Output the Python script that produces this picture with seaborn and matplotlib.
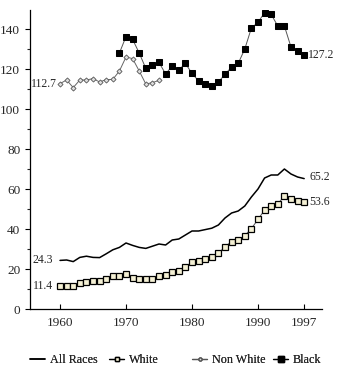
import numpy as np
import pandas as pd
import matplotlib
matplotlib.use("Agg")
import matplotlib.pyplot as plt
import seaborn as sns
from matplotlib.ticker import MultipleLocator
from matplotlib.lines import Line2D

years_all = list(range(1960, 1998))
all_races = [24.3, 24.5, 23.7, 25.8, 26.4, 25.8, 25.7, 27.6, 29.6, 30.8,
             33.0, 31.8, 30.8, 30.3, 31.4, 32.5, 32.0, 34.5, 35.0, 37.0,
             39.0, 39.0, 39.7, 40.4, 42.0, 45.5, 48.0, 49.0, 51.5, 56.0,
             60.0, 65.5, 67.0, 67.0, 70.0, 67.5, 66.0, 65.2]
white = [11.4, 11.7, 11.6, 12.8, 13.3, 13.8, 13.8, 15.0, 16.5, 16.3,
         17.3, 15.7, 15.0, 15.0, 15.2, 16.5, 16.8, 18.5, 19.0, 20.8,
         23.7, 24.2, 25.2, 26.2, 27.8, 31.2, 33.7, 34.5, 36.7, 40.2,
         44.8, 49.5, 51.5, 52.5, 56.5, 55.2, 54.0, 53.6]
years_nonwhite = list(range(1960, 1976))
non_white = [112.7, 114.5, 110.7, 114.5, 114.5, 115.2, 113.5, 114.7, 114.8, 119.0,
             126.0, 125.2, 119.0, 112.5, 113.2, 114.3]
years_black = list(range(1969, 1998))
black = [128.0, 136.2, 134.8, 128.0, 120.3, 122.0, 123.3, 117.5, 121.5, 119.5,
         122.8, 117.8, 114.0, 112.3, 111.7, 113.5, 117.3, 121.0, 122.8, 130.0,
         140.5, 143.3, 148.2, 147.3, 141.5, 141.5, 131.0, 129.0, 127.2]
x_ticks = [1960, 1970, 1980, 1990, 1997]
legend_labels = ["All Races", "White", "Non White", "Black"]

sns.set_style("ticks")
plt.rcParams['font.family'] = ['Liberation Serif', 'DejaVu Serif']

fig = plt.figure(figsize=(3.44, 3.74), dpi=100)
ax = fig.add_axes([30/344, 65/374, 292/344, 299/374])

df_all = pd.DataFrame({"year": years_all, "v": all_races})
df_white = pd.DataFrame({"year": years_all, "v": white})
df_nw = pd.DataFrame({"year": years_nonwhite, "v": non_white})
df_b = pd.DataFrame({"year": years_black, "v": black})

sns.lineplot(data=df_all, x="year", y="v", ax=ax, color="black", linewidth=1.1)
sns.lineplot(data=df_white, x="year", y="v", ax=ax, color="#555555", linewidth=0.7,
             marker="s", markersize=4.2, markerfacecolor="#f4f0d4",
             markeredgecolor="black", markeredgewidth=0.9)
sns.lineplot(data=df_nw, x="year", y="v", ax=ax, color="#666666", linewidth=0.7,
             marker="D", markersize=2.6, markerfacecolor="#dddddd",
             markeredgecolor="#555555", markeredgewidth=0.6)
sns.lineplot(data=df_b, x="year", y="v", ax=ax, color="#555555", linewidth=0.7,
             marker="s", markersize=5, markerfacecolor="black",
             markeredgecolor="black")

ax.set_xlim(1955.45, 1999.7)
ax.set_ylim(0, 149.5)
ax.set_xticks(x_ticks)
ax.set_xticklabels([str(t) for t in x_ticks])
ax.yaxis.set_major_locator(MultipleLocator(20))
ax.yaxis.set_minor_locator(MultipleLocator(10))
ax.tick_params(axis='both', which='major', labelsize=9.5, length=3.5, width=0.8, color='black')
ax.tick_params(axis='x', which='major', direction='in', pad=6)
ax.tick_params(axis='y', which='major', direction='out')
ax.tick_params(axis='y', which='minor', length=2, width=0.8, direction='out')
ax.set_xlabel("")
ax.set_ylabel("")
sns.despine(ax=ax)
for s in ["left", "bottom"]:
    ax.spines[s].set_linewidth(0.9)
    ax.spines[s].set_color("black")

fs = 8.5
ax.annotate(f"{non_white[0]}", (years_nonwhite[0], non_white[0]), xytext=(-2.5, 0),
            textcoords="offset points", ha="right", va="center", fontsize=fs)
ax.annotate(f"{black[-1]}", (years_black[-1], black[-1]), xytext=(2.5, 0),
            textcoords="offset points", ha="left", va="center", fontsize=fs)
ax.annotate(f"{all_races[-1]}", (years_all[-1], all_races[-1]), xytext=(4, 1),
            textcoords="offset points", ha="left", va="center", fontsize=fs)
ax.annotate(f"{white[-1]}", (years_all[-1], white[-1]), xytext=(4, 0),
            textcoords="offset points", ha="left", va="center", fontsize=fs)
ax.annotate(f"{all_races[0]}", (years_all[0], all_races[0]), xytext=(-5, 0),
            textcoords="offset points", ha="right", va="center", fontsize=fs)
ax.annotate(f"{white[0]}", (years_all[0], white[0]), xytext=(-5, 0),
            textcoords="offset points", ha="right", va="center", fontsize=fs)

handles = [
    Line2D([], [], color="black", linewidth=1.1),
    Line2D([], [], color="black", linewidth=0.9, marker="s", markersize=3.5,
           markerfacecolor="#f4f0d4", markeredgecolor="black"),
    Line2D([], [], color="#555555", linewidth=0.9, marker="o", markersize=2.2,
           markerfacecolor="#dddddd", markeredgecolor="#555555"),
    Line2D([], [], color="black", linewidth=0.9, marker="s", markersize=4,
           markerfacecolor="black", markeredgecolor="black"),
]
# left x positions (pixels) of each legend entry
leg_x = [30, 109, 192, 273]
for h, lab, lx in zip(handles, legend_labels, leg_x):
    lg = fig.legend([h], [lab], loc="center left", bbox_to_anchor=(lx/344, 14/374),
                    frameon=False, fontsize=8.7, handlelength=1.25,
                    handletextpad=0.4, borderpad=0.0, borderaxespad=0.0)
    fig.add_artist(lg)

fig.savefig("out.png", dpi=100)
